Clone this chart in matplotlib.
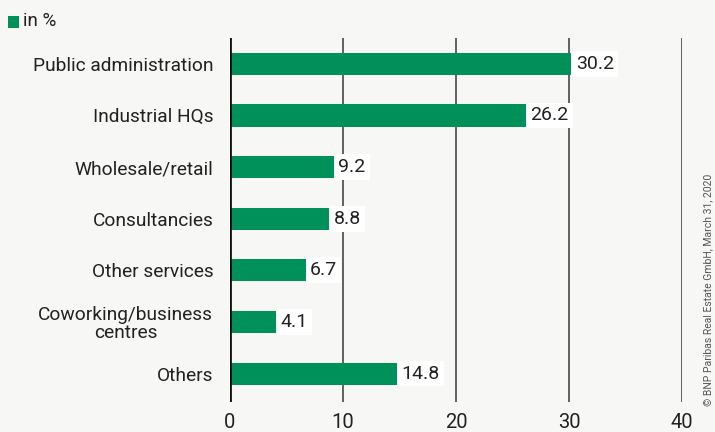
#!/usr/bin/env python3
"""
Take-up by sector, horizontal bar chart (in %).
"""

import matplotlib.pyplot as plt
import numpy as np

categories = [
    "Public administration",
    "Industrial HQs",
    "Wholesale/retail",
    "Consultancies",
    "Other services",
    "Coworking/business\ncentres",
    "Others",
]
shares = [30.2, 26.2, 9.2, 8.8, 6.7, 4.1, 14.8]
x_ticks = [0, 10, 20, 30, 40]

BAR_COLOR = "#00915a"
BG_COLOR = "#f7f7f5"
TEXT_COLOR = "#222222"

plt.rcParams["font.family"] = ["Roboto", "DejaVu Sans"]

fig = plt.figure(figsize=(7.15, 4.32), dpi=100, facecolor=BG_COLOR)
ax = fig.add_axes([230 / 715, 1 - 402 / 432, 452 / 715, (402 - 38) / 432])
ax.set_facecolor(BG_COLOR)

y = np.arange(len(categories))
ax.barh(y, shares, height=0.43, color=BAR_COLOR, zorder=3)

for yi, v in zip(y, shares):
    ax.text(v + 0.4, yi, f"{v:.1f}", va="center", ha="left", fontsize=14,
            color=TEXT_COLOR, zorder=4,
            bbox=dict(boxstyle="square,pad=0.2", facecolor="white", edgecolor="none"))

ax.set_xlim(0, 40)
ax.set_ylim(6.55, -0.5)
ax.set_yticks(y)
ax.set_yticklabels(categories, fontsize=13.8, color=TEXT_COLOR, linespacing=1.0,
                   multialignment="center")
ax.set_xticks(x_ticks)
ax.set_xticklabels([str(t) for t in x_ticks], fontsize=14.5, color=TEXT_COLOR)
ax.tick_params(axis="both", length=0)
ax.tick_params(axis="x", pad=8)
ax.tick_params(axis="y", pad=12)

for t in x_ticks[1:]:
    ax.axvline(t, color="#555555", linewidth=1.3, zorder=1)
ax.axvline(0, color="#111111", linewidth=2.0, zorder=5)

for side in ax.spines.values():
    side.set_visible(False)

# legend marker and unit label
fig.patches.append(plt.Rectangle((8 / 715, 1 - 28 / 432), 11 / 715, 12 / 432,
                                 transform=fig.transFigure, facecolor=BAR_COLOR,
                                 edgecolor="none"))
fig.text(23 / 715, 1 - 21 / 432, "in %", fontsize=13.5, color=TEXT_COLOR, va="center")

fig.text(708 / 715, 1 - 290 / 432,
         "\u00a9 BNP Paribas Real Estate GmbH, March 31, 2020",
         rotation=90, fontsize=7.5, color="#555555", va="center", ha="center")

fig.savefig("out.png", dpi=100, facecolor=BG_COLOR)
